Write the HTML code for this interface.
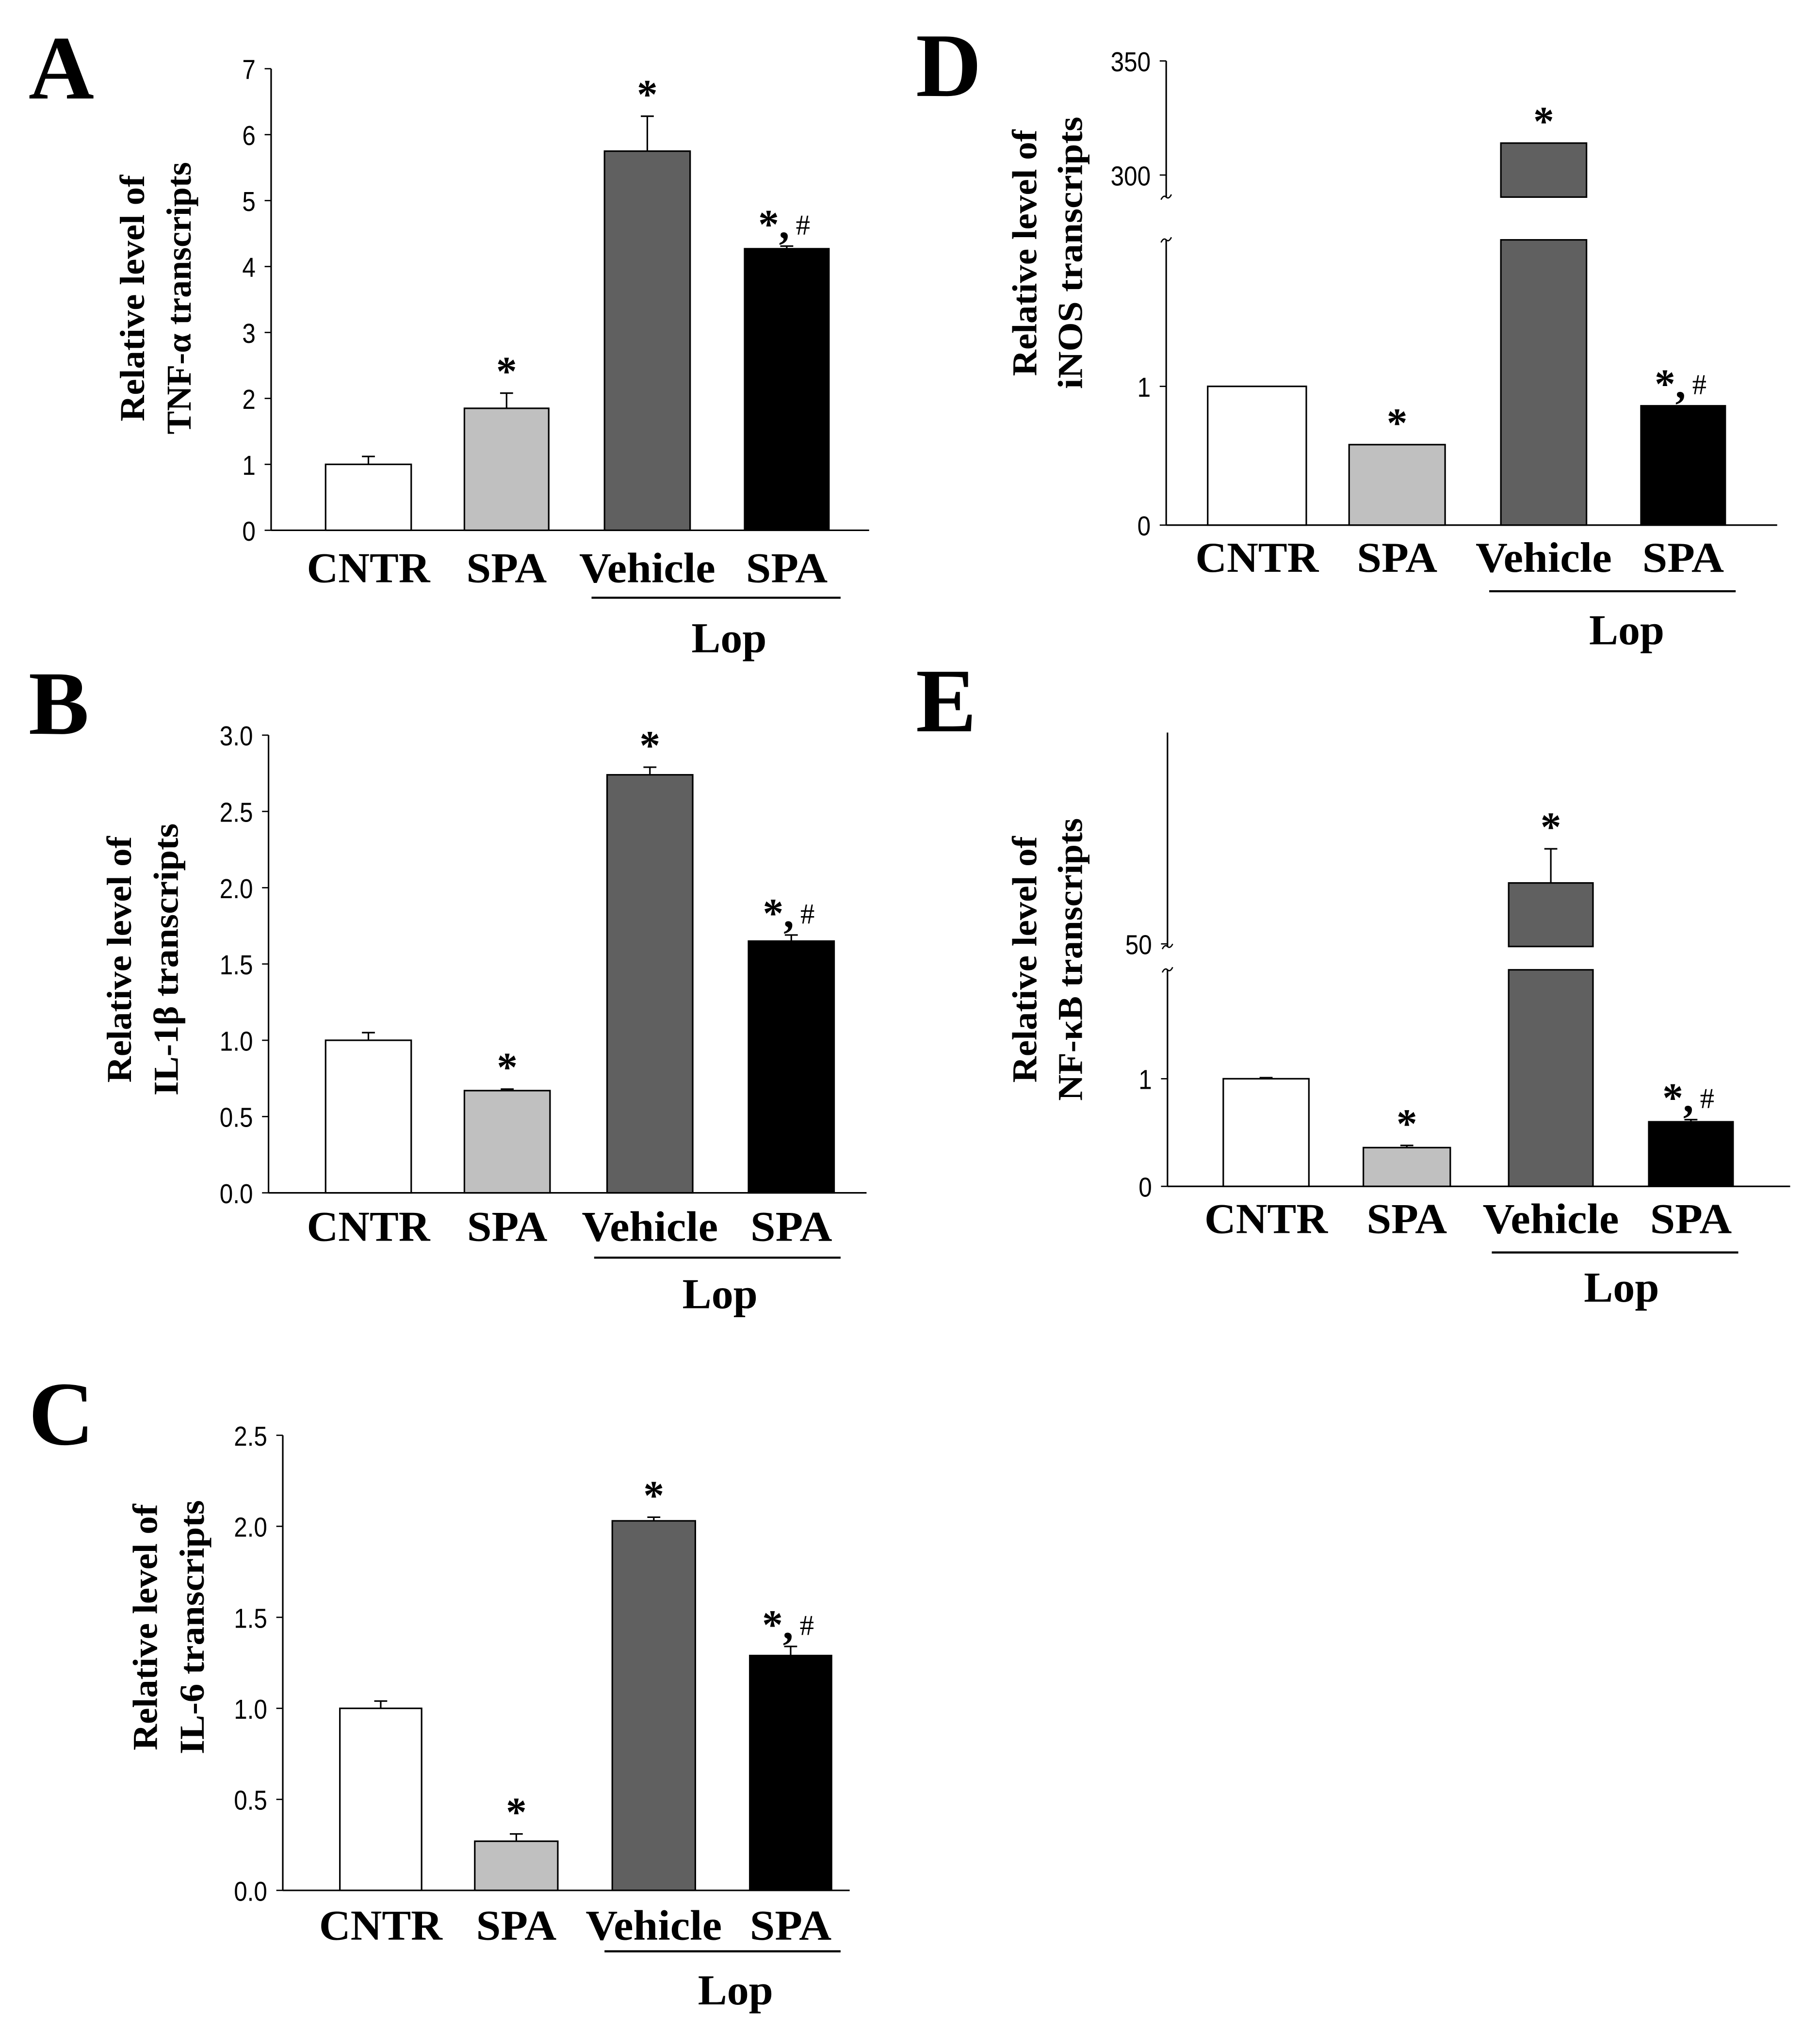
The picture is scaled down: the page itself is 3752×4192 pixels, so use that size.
<!DOCTYPE html>
<html><head><meta charset="utf-8">
<style>
html,body{margin:0;padding:0;background:#fff;}
svg{display:block;}
.tick{font-family:"Liberation Sans",sans-serif;font-size:21px;fill:#000;}
.cat{font-family:"Liberation Serif",serif;font-weight:bold;font-size:33px;fill:#000;}
.ttl{font-family:"Liberation Serif",serif;font-weight:bold;font-size:27px;fill:#000;}
.plet{font-family:"Liberation Serif",serif;font-weight:bold;font-size:70px;fill:#000;}
.sig{font-family:"Liberation Serif",serif;font-weight:bold;font-size:32px;fill:#000;}
.hash{font-family:"Liberation Serif",serif;font-weight:normal;font-size:22px;fill:#000;}
</style></head>
<body>
<svg id="fig" width="3752" height="4192" viewBox="0 0 1403 1568" preserveAspectRatio="none" xmlns="http://www.w3.org/2000/svg"></svg>
<script>
const categories=["CNTR","SPA","Vehicle","SPA"];
const significance=["","*","*","*,#"];
const tnfValues=[1.0,1.85,5.75,4.27];
const tnfErrors=[0.12,0.23,0.53,0.04];
const tnfTicks=["0","1","2","3","4","5","6","7"];
const il1bValues=[1.0,0.67,2.74,1.65];
const il1bErrors=[0.05,0.01,0.05,0.04];
const il1bTicks=["0.0","0.5","1.0","1.5","2.0","2.5","3.0"];
const il6Values=[1.0,0.27,2.03,1.29];
const il6Errors=[0.04,0.04,0.02,0.05];
const il6Ticks=["0.0","0.5","1.0","1.5","2.0","2.5"];
const inosValues=[1.0,0.58,314,0.86];
const inosErrors=[0,0,0,0];
const inosTicks=["0","1","300","350"];
const nfkbValues=[1.0,0.36,60,0.6];
const nfkbErrors=[0.01,0.02,5.6,0.02];
const nfkbTicks=["0","1","50"];
const fills=["#ffffff","#c0c0c0","#606060","#000000"];

const NS="http://www.w3.org/2000/svg";
const svg=document.getElementById('fig');
function mk(tag,attrs,parent,text){
  const e=document.createElementNS(NS,tag);
  for(const k in attrs)e.setAttribute(k,attrs[k]);
  if(text!==undefined)e.textContent=text;
  (parent||svg).appendChild(e);return e;
}

const panels=[
 {id:'a',letter:'A',lx:22,ly:76,ax:209,y0:409,yTop:53,right:670,values:tnfValues,errors:tnfErrors,ticks:tnfTicks,
  lin:{max:7},bars:[[251,317],[358,423],[466,532],[574,639]],catY:449,ulY:461,ul:[456,648],lopX:562,lopY:503,
  tx:[102,138],ty:230,tl:[190,210],title:["Relative level of","TNF-\u03b1 transcripts"]},
 {id:'b',letter:'B',lx:22,ly:566,ax:207,y0:920,yTop:567,right:668,values:il1bValues,errors:il1bErrors,ticks:il1bTicks,
  lin:{max:3},bars:[[251,317],[358,424],[468,534],[577,643]],catY:957,ulY:970,ul:[458,648],lopX:555,lopY:1009,
  tx:[92,128],ty:740,tl:[190,210],title:["Relative level of","IL-1\u03b2 transcripts"]},
 {id:'c',letter:'C',lx:22,ly:1114,ax:218,y0:1458,yTop:1107,right:655,values:il6Values,errors:il6Errors,ticks:il6Ticks,
  lin:{max:2.5},bars:[[262,325],[366,430],[472,536],[578,641]],catY:1496,ulY:1505,ul:[466,648],lopX:567,lopY:1546,
  tx:[112,148],ty:1255,tl:[190,196],title:["Relative level of","IL-6 transcripts"]},
 {id:'d',letter:'D',lx:706,ly:74,ax:899,y0:405,yTop:47,right:1370,values:inosValues,errors:inosErrors,ticks:inosTicks,
  brk:{lowPx:107,lowTop:185,upRefV:300,upRefY:135,upPx:1.76,upBot:152},
  bars:[[931,1007],[1040,1114],[1157,1223],[1265,1330]],catY:441,ulY:456,ul:[1148,1338],lopX:1254,lopY:497,
  tx:[790,825],ty:195,tl:[190,210],title:["Relative level of","iNOS transcripts"]},
 {id:'e',letter:'E',lx:706,ly:564,ax:900,y0:915,yTop:565,right:1380,values:nfkbValues,errors:nfkbErrors,ticks:nfkbTicks,
  brk:{lowPx:83,lowTop:748,upRefV:50,upRefY:728,upPx:4.7,upBot:730},
  bars:[[943,1009],[1051,1118],[1163,1228],[1271,1336]],catY:951,ulY:966,ul:[1150,1340],lopX:1250,lopY:1004,
  tx:[790,825],ty:740,tl:[190,218],title:["Relative level of","NF-\u03baB transcripts"]}
];

panels.forEach(p=>{
  const g=mk('g',{});
  
  
  let yOf;
  if(p.lin){ yOf=v=>p.y0-v*(p.y0-p.yTop)/p.lin.max; }
  else{
    const b=p.brk;
    const lowMax=(p.y0-b.lowTop)/b.lowPx;
    p.lowMax=lowMax;
    yOf=v=> v<=lowMax ? p.y0-v*b.lowPx : b.upRefY-(v-b.upRefV)*b.upPx;
  }
  const L=mk('text',{x:p.lx,y:p.ly,class:'plet'},g,p.letter);
  
  
  p.title.forEach((t,i)=>{
    const T=mk('text',{x:p.tx[i],y:p.ty,class:'ttl','text-anchor':'middle',transform:`rotate(-90 ${p.tx[i]} ${p.ty})`,dy:'9',textLength:p.tl[i],lengthAdjust:'spacingAndGlyphs'},g,t);
    
    
  });
  if(p.lin){
    const A=mk('line',{x1:p.ax,y1:p.yTop,x2:p.ax,y2:p.y0,stroke:'#000','stroke-width':1.2},g);
    
    
  }else{
    const b=p.brk;
    const A1=mk('line',{x1:p.ax,y1:p.yTop,x2:p.ax,y2:b.upBot,stroke:'#000','stroke-width':1.2},g);
    
    
    const A2=mk('line',{x1:p.ax,y1:b.lowTop,x2:p.ax,y2:p.y0,stroke:'#000','stroke-width':1.2},g);
    
    
    [b.upBot,b.lowTop].forEach(yy=>{
      const s=mk('path',{d:`M${p.ax-4} ${yy+2} q2 -4 4 -2 q2 2 4 -2`,fill:'none',stroke:'#000','stroke-width':1},g);
      
      
    });
  }
  const X=mk('line',{x1:p.ax,y1:p.y0,x2:p.right,y2:p.y0,stroke:'#000','stroke-width':1.2},g);
  
  
  p.ticks.forEach(t=>{
    const v=parseFloat(t), y=yOf(v);
    const tk=mk('line',{x1:p.ax-5,y1:y,x2:p.ax,y2:y,stroke:'#000','stroke-width':1},g);
    
    
    const tl=mk('text',{x:p.ax-12,y:y+8,class:'tick','text-anchor':'end',transform:`translate(${(p.ax-12)*0.12} 0) scale(0.88 1)`},g,t);
    
    
  });
  const catW=[95,62,105,63];
  p.values.forEach((v,i)=>{
    const [x1,x2]=p.bars[i];
    let topY;
    if(p.brk && v>p.lowMax){
      const lo=mk('rect',{x:x1,y:yOf(p.lowMax),width:x2-x1,height:p.y0-yOf(p.lowMax),fill:fills[i],stroke:'#000','stroke-width':1.2},g);
      
      
      topY=yOf(v);
      const up=mk('rect',{x:x1,y:topY,width:x2-x1,height:p.brk.upBot-topY,fill:fills[i],stroke:'#000','stroke-width':1.2},g);
      
      
    }else{
      topY=yOf(v);
      const r=mk('rect',{x:x1,y:topY,width:x2-x1,height:p.y0-topY,fill:fills[i],stroke:'#000','stroke-width':1.2},g);
      
      
    }
    let markY=topY;
    const e=p.errors[i];
    if(e>0){
      const ey=yOf(v+e), cx=(x1+x2)/2;
      const el=mk('path',{d:`M${cx} ${topY} V${ey} M${cx-5} ${ey} H${cx+5}`,stroke:'#000','stroke-width':1.2,fill:'none'},g);
      
      
      markY=ey;
    }
    const s=significance[i];
    if(s){
      const cx=(x1+x2)/2;
      const st=mk('text',{x:cx,y:markY-6,class:'sig','text-anchor':'middle'},g);
      
      
      if(s==='*'){ st.textContent='*'; }
      else{
        st.setAttribute('x',cx-2);
        mk('tspan',{},st,'*,');
        mk('tspan',{class:'hash',dx:'5',dy:'-3'},st,'#');
      }
    }
    const c=mk('text',{x:(x1+x2)/2,y:p.catY,class:'cat','text-anchor':'middle',textLength:catW[i],lengthAdjust:'spacingAndGlyphs'},g,categories[i]);
    
    
  });
  const ul=mk('line',{x1:p.ul[0],y1:p.ulY,x2:p.ul[1],y2:p.ulY,stroke:'#000','stroke-width':1.6},g);
  
  
  const lop=mk('text',{x:p.lopX,y:p.lopY,class:'cat','text-anchor':'middle',textLength:58,lengthAdjust:'spacingAndGlyphs'},g,'Lop');
  
  
});
</script>
</body></html>
